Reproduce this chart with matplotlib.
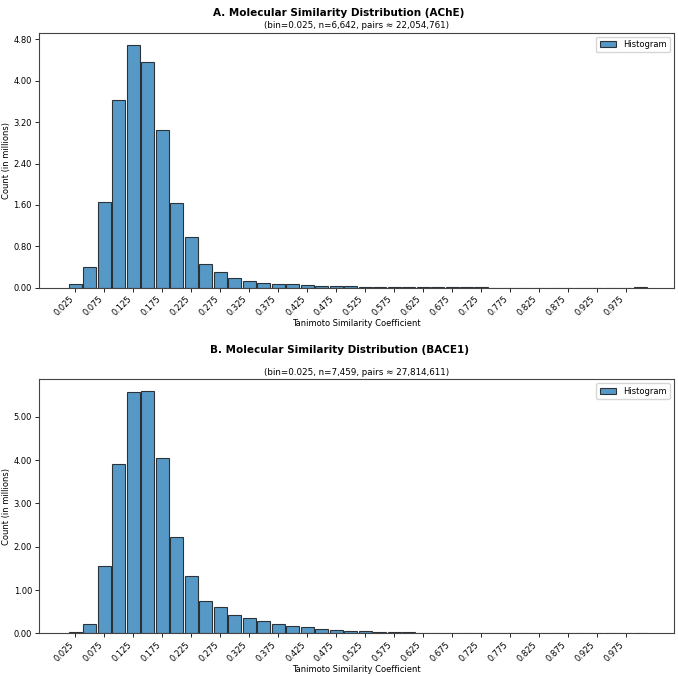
import matplotlib
matplotlib.use("Agg")
import matplotlib.pyplot as plt
import numpy as np

bin_width = 0.025
bin_centers = [round(0.025 * i, 3) for i in range(1, 41)]

counts_ache = [0.078, 0.40, 1.665, 3.63, 4.70, 4.365, 3.05, 1.645, 0.985, 0.466,
               0.304, 0.188, 0.136, 0.097, 0.071, 0.065, 0.052, 0.039, 0.030, 0.025,
               0.020, 0.016, 0.013, 0.011, 0.009, 0.007, 0.006, 0.005, 0.004, 0.0035,
               0.003, 0.0025, 0.002, 0.0018, 0.0015, 0.0012, 0.001, 0.0008, 0.0006, 0.006]
counts_bace1 = [0.023, 0.223, 1.556, 3.92, 5.57, 5.59, 4.05, 2.22, 1.333, 0.74,
                0.60, 0.416, 0.347, 0.277, 0.208, 0.17, 0.139, 0.10, 0.077, 0.055,
                0.048, 0.032, 0.026, 0.019, 0.015, 0.012, 0.009, 0.007, 0.005, 0.004,
                0.003, 0.0025, 0.002, 0.0015, 0.0012, 0.001, 0.0008, 0.0006, 0.0005, 0.003]

xtick_vals = [round(0.025 + 0.05 * i, 3) for i in range(20)]
xtick_labels = [f"{v:.3f}" for v in xtick_vals]
yticks_ache = [0, 0.8, 1.6, 2.4, 3.2, 4.0, 4.8]
yticks_bace1 = [0, 1, 2, 3, 4, 5]

titles = ["A. Molecular Similarity Distribution (AChE)",
          "B. Molecular Similarity Distribution (BACE1)"]
subtitles = ["(bin=0.025, n=6,642, pairs \u2248 22,054,761)",
             "(bin=0.025, n=7,459, pairs \u2248 27,814,611)"]

W, H = 678, 676
fig = plt.figure(figsize=(W / 100, H / 100), dpi=100)

def ax_rect(left, right, top, bottom):
    return [left / W, 1 - bottom / H, (right - left) / W, (bottom - top) / H]

axes = [fig.add_axes(ax_rect(39, 674, 32.5, 287.7)),
        fig.add_axes(ax_rect(39, 674, 379.3, 633.3))]
data = [counts_ache, counts_bace1]
yticks = [yticks_ache, yticks_bace1]
title_y = [13, 350]

for ax, counts, yt, t, s, ty in zip(axes, data, yticks, titles, subtitles, title_y):
    ax.bar(bin_centers, counts, width=bin_width * 0.9, color="#1f77b4", alpha=0.75,
           edgecolor="black", linewidth=0.8, label="Histogram")
    ax.set_xlim(-0.0377, 1.058)
    ax.set_xticks(xtick_vals)
    ax.set_xticklabels(xtick_labels, rotation=45, ha="right", fontsize=6)
    ax.set_yticks(yt)
    ax.set_yticklabels([f"{v:.2f}" for v in yt], fontsize=6)
    ax.set_ylim(0, max(counts) * 1.05)
    ax.set_xlabel("Tanimoto Similarity Coefficient", fontsize=6, labelpad=1)
    ax.set_ylabel("Count (in millions)", fontsize=6, labelpad=2)
    ax.tick_params(length=3, width=0.6, pad=2)
    for sp in ax.spines.values():
        sp.set_linewidth(0.8)
        sp.set_color("#444444")
    ax.legend(loc="upper right", fontsize=6, frameon=True)
    ax.set_title(s, fontsize=6.3, pad=3)
    fig.text(0.5, 1 - ty / H, t, ha="center", va="center", fontsize=7.5, fontweight="bold")

fig.savefig("out.png", dpi=100)
